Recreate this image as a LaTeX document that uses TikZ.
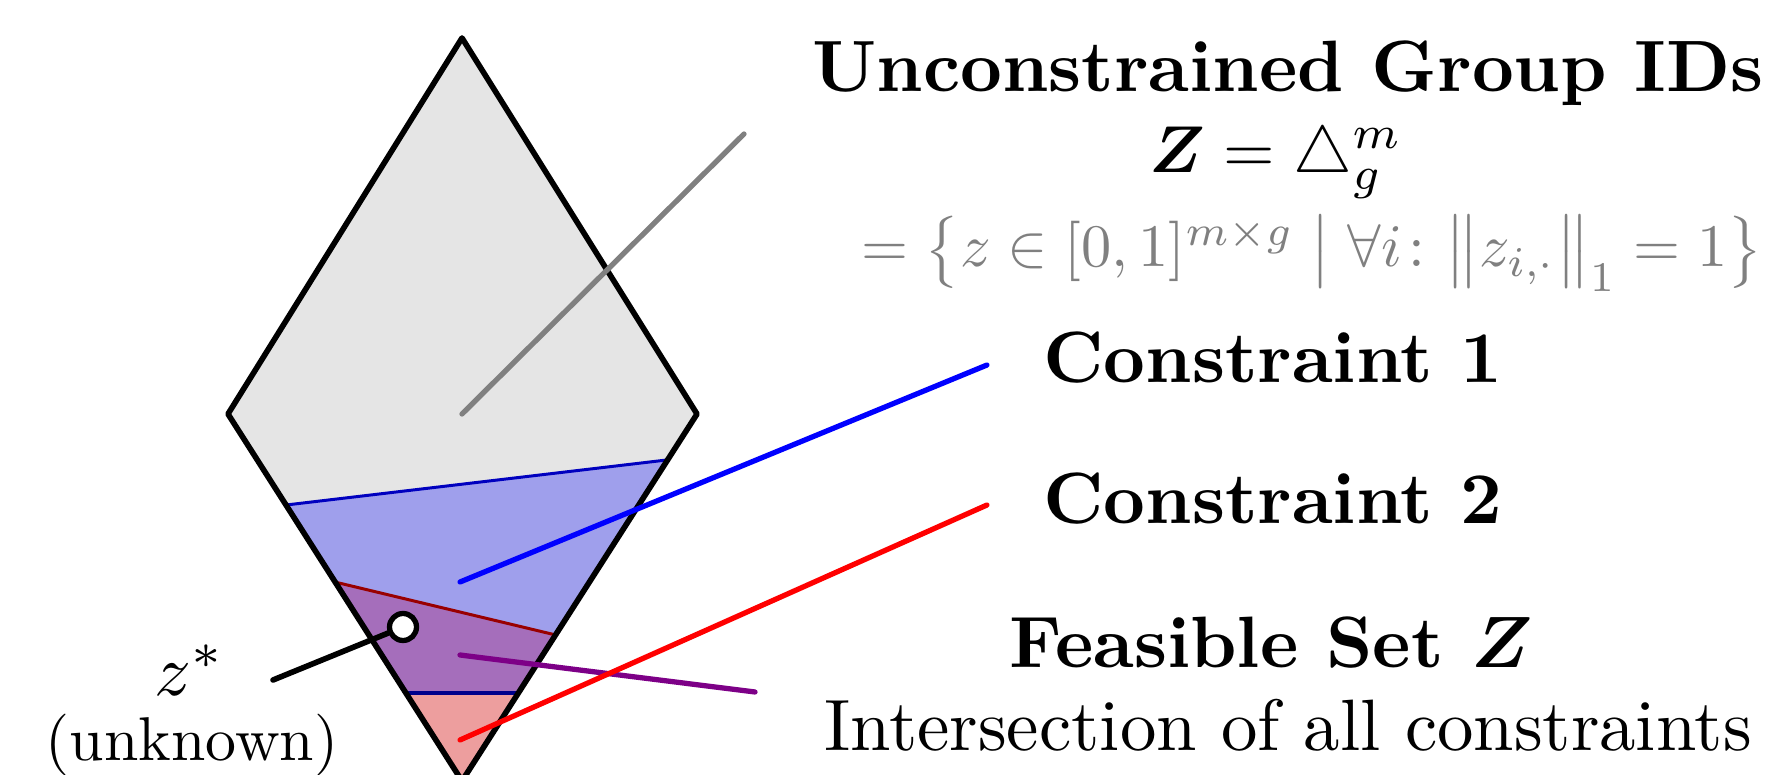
\documentclass[tikz,border=0pt]{standalone}
\usepackage{amsfonts,amsmath,amssymb,bm}
\usepackage{xcolor}
\usetikzlibrary{arrows.meta,calc}
\definecolor{setpurple}{RGB}{125,0,135}
\tikzset{
  every picture/.style={line join=round, line cap=round, >=Stealth},
  lbl/.style={scale=2.07, transform shape, inner sep=0pt, anchor=base},
  leader/.style={line width=1.5pt},
  bndry/.style={line width=0.85pt},
}
\begin{document}
\begin{tikzpicture}[x=1cm,y=1cm]
\useasboundingbox (0,0) rectangle (17.68,7.74);
\clip (0,0) rectangle (17.68,7.74);
\coordinate (T) at (4.62,7.36);
\coordinate (L) at (2.28,3.60);
\coordinate (R) at (6.97,3.60);
\coordinate (B) at (4.62,-0.07);
\coordinate (c1l) at ($(L)!0.248!(B)$);
\coordinate (c1r) at ($(R)!0.125!(B)$);
\coordinate (c1bl) at ($(L)!0.760!(B)$);
\coordinate (c1br) at ($(R)!0.760!(B)$);
\coordinate (c2l) at ($(L)!0.458!(B)$);
\coordinate (c2r) at ($(R)!0.602!(B)$);
\fill[gray!20] (T)--(L)--(B)--(R)--cycle;
\fill[red,opacity=0.31] (c2l)--(c2r)--(B)--cycle;
\fill[blue,opacity=0.3] (c1l)--(c1r)--(c1br)--(c1bl)--cycle;
\draw[bndry,blue!75!black] (c1l)--(c1r);
\draw[bndry,red!60!black] (c2l)--(c2r);
\draw[bndry,line width=1pt,blue!55!black] (c1bl)--(c1br);
\draw[line width=1.6pt] (T)--(L)--(B)--(R)--cycle;
% leaders
\coordinate (g0) at (4.62,3.60);
\coordinate (g1) at (7.44,6.40);
\coordinate (b0) at (4.60,1.92);
\coordinate (b1) at (9.87,4.09);
\coordinate (p0) at (4.60,1.19);
\coordinate (p1) at (7.55,0.82);
\coordinate (r0) at (4.60,0.34);
\coordinate (r1) at (9.87,2.69);
\draw[leader,gray] (g0)--(g1);
\draw[leader,blue] (b0)--(b1);
\draw[leader,setpurple] (p0)--(p1);
\draw[leader,red] (r0)--(r1);
\node[draw,circle,fill=white,line width=1.5pt,minimum size=0.27cm,inner sep=0pt] (zs) at (4.03,1.47) {};
\coordinate (zl) at (2.73,0.94);
\draw[leader,line width=1.6pt] (zl)--(zs);
% labels
\node[lbl,font=\bfseries] (ttl) at (12.88,6.82) {Unconstrained Group IDs};
\node[lbl,scale=0.91] (zdef) at (12.76,6.01) {$\boldsymbol{Z} = \triangle^m_g$};
\node[lbl,scale=0.83,text=black!50] (zset) at (13.12,5.07) {$=\bigl\{z\in[0,1]^{m\times g} \bigm| \forall i\colon \bigl\|z_{i,\cdot}\bigr\|_1 = 1\bigr\}$};
\node[lbl,font=\bfseries] (con1) at (12.73,3.91) {Constraint 1};
\node[lbl,font=\bfseries] (con2) at (12.73,2.50) {Constraint 2};
\node[lbl,font=\bfseries] (feas) at (12.71,1.07) {Feasible Set $\boldsymbol{Z}$};
\node[lbl] (inter) at (12.88,0.24) {Intersection of all constraints};
\node[lbl] (zstar) at (1.90,0.79) {$z^*$};
\node[lbl,scale=0.85] (unk) at (1.92,0.14) {(unknown)};
\end{tikzpicture}
\end{document}
